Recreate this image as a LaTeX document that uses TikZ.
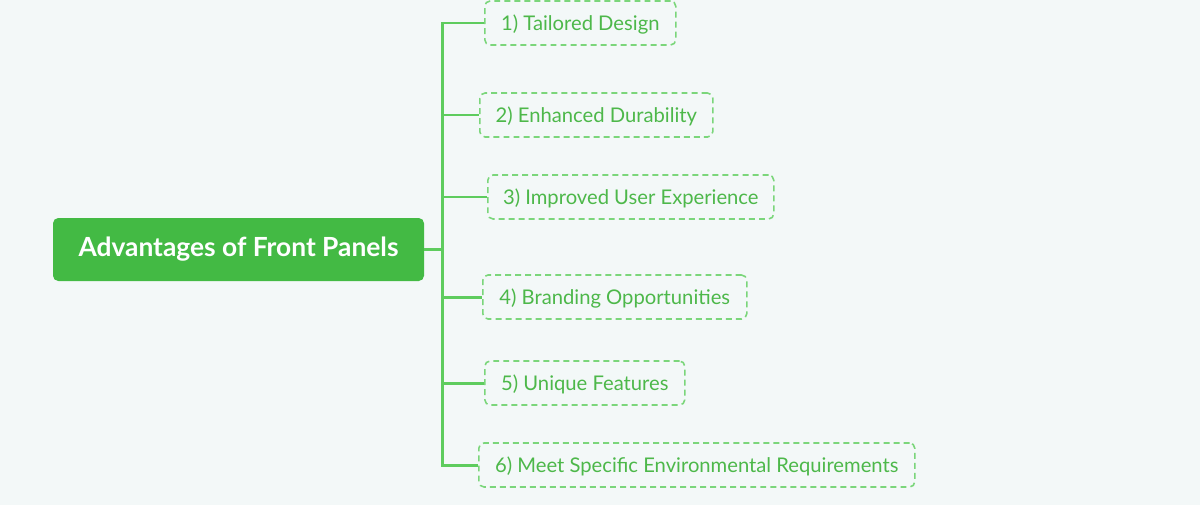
\documentclass[tikz,border=0pt]{standalone}
\usepackage{fontspec}
\setmainfont{Lato}
\usepackage{tikz}
\usetikzlibrary{positioning}
\definecolor{bgcol}{HTML}{F3F8F8}
\definecolor{rootgreen}{HTML}{43BA44}
\definecolor{leafgreen}{HTML}{4DB84A}
\definecolor{dashgreen}{HTML}{7BD67B}
\definecolor{linegreen}{HTML}{5ECC5E}
\tikzset{
  rootnode/.style={fill=rootgreen, rounded corners=3pt, text=white, font=\bfseries\fontsize{15}{18}\selectfont, minimum width=7.42cm, minimum height=1.26cm, inner sep=0pt, text height=0.9em, text depth=0.1em},
  leafnode/.style={draw=dashgreen, dash pattern=on 3.4pt off 2.3pt, rounded corners=3pt, line width=0.9pt, text=leafgreen, font=\fontsize{11.5}{13}\selectfont, minimum height=0.88cm, anchor=west, inner sep=0pt, text height=0.95em, text depth=0.1em},
  branch/.style={draw=linegreen, line width=1.7pt}
}

\begin{document}
\begin{tikzpicture}
\fill[bgcol] (0,0) rectangle (24,-10.1);
\useasboundingbox (0,0) rectangle (24,-10.1);

\node[rootnode] (root) at (4.77,-4.99) {Advantages of Front Panels};

\node[leafnode, minimum width=3.82cm] (adv1) at (9.68,-0.46) {1) Tailored Design};
\node[leafnode, minimum width=4.66cm] (adv2) at (9.58,-2.30) {2) Enhanced Durability};
\node[leafnode, minimum width=5.72cm] (adv3) at (9.74,-3.94) {3) Improved User Experience};
\node[leafnode, minimum width=5.28cm] (adv4) at (9.64,-5.94) {4) Branding Opportunities};
\node[leafnode, minimum width=4.00cm] (adv5) at (9.68,-7.66) {5) Unique Features};
\node[leafnode, minimum width=8.72cm] (adv6) at (9.56,-9.30) {6) Meet Specific Environmental Requirements};

\coordinate (trunk) at (8.84,0);
\draw[branch] (root.east) -- (root.east -| trunk);
\draw[branch] (adv1.west) -- (adv1.west -| trunk) -- (adv6.west -| trunk) -- (adv6.west);
\foreach \n in {adv2,adv3,adv4,adv5}
  \draw[branch] (\n.west -| trunk) -- (\n.west);
\end{tikzpicture}
\end{document}
